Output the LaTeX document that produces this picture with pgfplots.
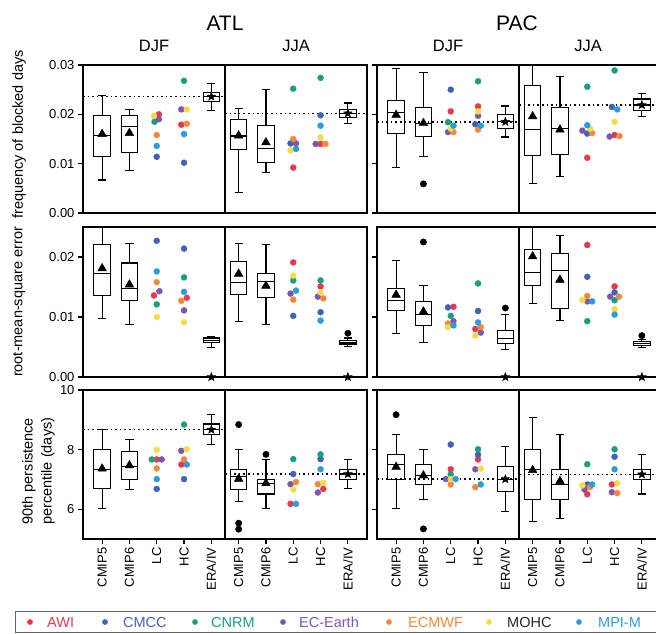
\documentclass[border=0pt]{standalone}
\usepackage{fontspec}
\setmainfont{Liberation Sans}
\usepackage{pgfplots}
\pgfplotsset{compat=1.18}

\definecolor{awi}{RGB}{230,57,80}
\definecolor{cmcc}{RGB}{64,98,184}
\definecolor{cnrm}{RGB}{24,158,128}
\definecolor{ecearth}{RGB}{126,86,174}
\definecolor{ecmwf}{RGB}{245,137,58}
\definecolor{mohc}{RGB}{244,220,72}
\definecolor{mpim}{RGB}{44,156,220}

% filled five-pointed star
\pgfdeclareplotmark{fstar}{%
  \pgfpathmoveto{\pgfpointpolar{90}{\pgfplotmarksize}}%
  \pgfpathlineto{\pgfpointpolar{126}{0.42\pgfplotmarksize}}%
  \pgfpathlineto{\pgfpointpolar{162}{\pgfplotmarksize}}%
  \pgfpathlineto{\pgfpointpolar{198}{0.42\pgfplotmarksize}}%
  \pgfpathlineto{\pgfpointpolar{234}{\pgfplotmarksize}}%
  \pgfpathlineto{\pgfpointpolar{270}{0.42\pgfplotmarksize}}%
  \pgfpathlineto{\pgfpointpolar{306}{\pgfplotmarksize}}%
  \pgfpathlineto{\pgfpointpolar{342}{0.42\pgfplotmarksize}}%
  \pgfpathlineto{\pgfpointpolar{18}{\pgfplotmarksize}}%
  \pgfpathlineto{\pgfpointpolar{54}{0.42\pgfplotmarksize}}%
  \pgfpathclose
  \pgfusepathqfillstroke}

\pgfplotsset{
  panel/.style={
    scale only axis, width=284pt,
    xmin=0.3, xmax=10.7, clip=false,
    axis line style={line width=1.1pt},
    tick style={black, line width=1.1pt},
    tick align=outside, major tick length=5pt,
    xtick pos=left, ytick pos=left,
    xtick=\empty,
    tick label style={font=\fontsize{13}{13}\selectfont},
    label style={font=\fontsize{14.5}{19}\selectfont},
    /pgf/number format/assume math mode=true,
  },
  frac/.style={scaled y ticks=false,
    yticklabel style={/pgf/number format/fixed,
      /pgf/number format/fixed zerofill, /pgf/number format/precision=2}},
  rowA/.style={frac, height=148pt, ymin=0, ymax=0.03, ytick={0,0.01,0.02,0.03}},
  rowB/.style={frac, height=150pt, ymin=0, ymax=0.025, ytick={0,0.01,0.02}},
  rowC/.style={height=149pt, ymin=5, ymax=10, ytick={6,8,10},
    xtick={1,...,10},
    xticklabels={CMIP5,CMIP6,LC,HC,ERA/IV,CMIP5,CMIP6,LC,HC,ERA/IV},
    xticklabel style={rotate=90, anchor=east}},
  pac/.style={yticklabels={}},
  bxl/.style={black, line width=1.1pt, mark=none},
}

% box: position, lower whisker, lower quartile, median, upper quartile, upper whisker
\newcommand{\bx}[6]{%
  \pgfmathsetmacro\boxl{#1-0.3}\pgfmathsetmacro\boxr{#1+0.3}%
  \pgfmathsetmacro\capl{#1-0.15}\pgfmathsetmacro\capr{#1+0.15}%
  \addplot[bxl] coordinates {(\boxl,#3) (\boxr,#3) (\boxr,#5) (\boxl,#5)} -- cycle;
  \addplot[bxl] coordinates {(\boxl,#4) (\boxr,#4)};
  \addplot[bxl] coordinates {(#1,#5) (#1,#6)};
  \addplot[bxl] coordinates {(#1,#2) (#1,#3)};
  \addplot[bxl] coordinates {(\capl,#6) (\capr,#6)};
  \addplot[bxl] coordinates {(\capl,#2) (\capr,#2)};
}
\newcommand{\means}[1]{\addplot[only marks, mark=triangle*, mark size=5pt, black] coordinates {#1};}
\newcommand{\refs}[1]{\addplot[only marks, mark=fstar, mark size=4.5pt, black] coordinates {#1};}
\newcommand{\outl}[1]{\addplot[only marks, mark=*, mark size=3.2pt, black] coordinates {#1};}
\newcommand{\mdl}[2]{\addplot[only marks, mark=*, mark size=3pt, color=#1] coordinates {#2};}
\newcommand{\divider}[2]{\addplot[black, line width=1.5pt] coordinates {(5.5,#1) (5.5,#2)};}
\newcommand{\refline}[3]{\addplot[black, line width=1.6pt, dash pattern=on 1.6pt off 3pt] coordinates {(#1,#3) (#2,#3)};}
% legend entry: dot position, text position, colour, text colour, name
\newcommand{\lgd}[5]{%
  \addplot[only marks, mark=*, mark size=2.6pt, color=#3] coordinates {(#1,11)};
  \node[anchor=west, inner sep=0pt, text=#4, font=\fontsize{14.5}{16}\selectfont] at (axis cs:#2,11) {#5};}

\begin{document}
\begin{tikzpicture}

\node[font=\fontsize{21}{21}\selectfont] at (225pt,-23pt) {ATL};
\node[font=\fontsize{16.5}{16.5}\selectfont] at (154pt,-46pt) {DJF};
\node[font=\fontsize{16.5}{16.5}\selectfont] at (296pt,-46pt) {JJA};
\node[font=\fontsize{21}{21}\selectfont] at (517pt,-23pt) {PAC};
\node[font=\fontsize{16.5}{16.5}\selectfont] at (448pt,-46pt) {DJF};
\node[font=\fontsize{16.5}{16.5}\selectfont] at (588pt,-46pt) {JJA};

% ---------- row 1: frequency of blocked days ----------
\begin{axis}[panel, rowA, at={(83pt,-65pt)}, anchor=north west,
  ylabel={frequency of blocked days},
  ylabel style={at={(axis description cs:-0.225,0.53)}, anchor=center}]
\divider{0}{0.03}
\refline{0.3}{5.5}{0.0236}
\refline{5.5}{10.7}{0.0202}
\bx{1}{0.0067}{0.0115}{0.0158}{0.0197}{0.0239}
\bx{2}{0.0086}{0.0123}{0.0175}{0.0198}{0.0210}
\bx{5}{0.0208}{0.0226}{0.0236}{0.0244}{0.0262}
\bx{6}{0.0042}{0.0129}{0.0156}{0.0189}{0.0212}
\bx{7}{0.0083}{0.0102}{0.0131}{0.0177}{0.0251}
\bx{10}{0.0181}{0.0194}{0.0202}{0.0210}{0.0223}
\means{(1,0.0160) (2,0.0162) (6,0.0157) (7,0.0143)}
\refs{(5,0.0236) (10,0.0202)}
\mdl{awi}{(3.08,0.0200) (3.9,0.0179) (8,0.0092) (9,0.0140)}
\mdl{cmcc}{(3,0.0114) (4,0.0102) (7.9,0.0141) (9,0.0198)}
\mdl{cnrm}{(2.92,0.0185) (4,0.0268) (8,0.0252) (9,0.0274)}
\mdl{ecearth}{(3.08,0.0190) (3.9,0.0210) (8.1,0.0141) (8.82,0.0140)}
\mdl{ecmwf}{(3,0.0158) (4.1,0.0181) (8,0.0150) (9.18,0.0140)}
\mdl{mohc}{(2.9,0.0197) (4.1,0.0210) (7.9,0.0127) (9,0.0153)}
\mdl{mpim}{(3,0.0136) (4,0.0160) (8.1,0.0130) (9,0.0177)}
\end{axis}

\begin{axis}[panel, rowA, pac, at={(377pt,-65pt)}, anchor=north west]
\divider{0}{0.03}
\refline{0.3}{5.5}{0.0185}
\refline{5.5}{10.7}{0.0219}
\bx{1}{0.0093}{0.0162}{0.0204}{0.0228}{0.0293}
\bx{2}{0.0115}{0.0155}{0.0182}{0.0214}{0.0285}
\bx{5}{0.0154}{0.0171}{0.0185}{0.0199}{0.0217}
\bx{6}{0.0059}{0.0116}{0.0169}{0.0259}{0.0300}
\bx{7}{0.0074}{0.0119}{0.0171}{0.0213}{0.0276}
\bx{10}{0.0196}{0.0207}{0.0219}{0.0231}{0.0243}
\outl{(2,0.0059)}
\means{(1,0.0199) (2,0.0182) (6,0.0196) (7,0.0169)}
\refs{(5,0.0185) (10,0.0219)}
\mdl{awi}{(3,0.0206) (4,0.0216) (8,0.0112) (9,0.0158)}
\mdl{cmcc}{(3,0.0250) (3.9,0.0180) (8,0.0161) (8.9,0.0215)}
\mdl{cnrm}{(2.9,0.0184) (4,0.0267) (8,0.0256) (9,0.0289)}
\mdl{ecearth}{(2.9,0.0164) (4,0.0197) (7.82,0.0167) (8.82,0.0155)}
\mdl{ecmwf}{(3.1,0.0164) (4,0.0169) (8.18,0.0162) (9.18,0.0156)}
\mdl{mohc}{(3,0.0171) (4,0.0206) (8.1,0.0171) (9,0.0185)}
\mdl{mpim}{(3.1,0.0177) (4.1,0.0177) (8,0.0178) (9.1,0.0210)}
\end{axis}

% ---------- row 2: root-mean-square error ----------
\begin{axis}[panel, rowB, at={(83pt,-227pt)}, anchor=north west,
  ylabel={root-mean-square error},
  ylabel style={at={(axis description cs:-0.225,0.5)}, anchor=center}]
\divider{0}{0.025}
\bx{1}{0.0097}{0.0136}{0.0172}{0.0221}{0.0250}
\bx{2}{0.0087}{0.0127}{0.0148}{0.0190}{0.0222}
\bx{5}{0.0049}{0.0057}{0.0061}{0.0065}{0.0068}
\bx{6}{0.0093}{0.0138}{0.0157}{0.0192}{0.0223}
\bx{7}{0.0088}{0.0133}{0.0159}{0.0173}{0.0221}
\bx{10}{0.0051}{0.0055}{0.0058}{0.0061}{0.0065}
\outl{(10,0.0073)}
\means{(1,0.0181) (2,0.0154) (6,0.0172) (7,0.0152)}
\refs{(5,0) (10,0)}
\mdl{awi}{(2.9,0.0136) (4.1,0.0132) (8,0.0191) (9,0.0151)}
\mdl{cmcc}{(3,0.0227) (4,0.0214) (8,0.0102) (9,0.0108)}
\mdl{cnrm}{(3,0.0121) (4,0.0166) (8,0.0161) (9,0.0161)}
\mdl{ecearth}{(3.1,0.0143) (4,0.0111) (7.9,0.0139) (8.9,0.0134)}
\mdl{ecmwf}{(3,0.0158) (3.9,0.0127) (8,0.0129) (9.1,0.0131)}
\mdl{mohc}{(3,0.0100) (4,0.0091) (8,0.0169) (9,0.0141)}
\mdl{mpim}{(3,0.0176) (4,0.0142) (8.1,0.0144) (9,0.0094)}
\end{axis}

\begin{axis}[panel, rowB, pac, at={(377pt,-227pt)}, anchor=north west]
\divider{0}{0.025}
\bx{1}{0.0073}{0.0111}{0.0127}{0.0147}{0.0194}
\bx{2}{0.0058}{0.0086}{0.0104}{0.0126}{0.0153}
\bx{5}{0.0046}{0.0056}{0.0064}{0.0078}{0.0104}
\bx{6}{0.0123}{0.0152}{0.0174}{0.0212}{0.0250}
\bx{7}{0.0094}{0.0114}{0.0177}{0.0206}{0.0236}
\bx{10}{0.0049}{0.0053}{0.0056}{0.0059}{0.0062}
\outl{(2,0.0225) (5,0.0115) (10,0.0069)}
\means{(1,0.0137) (2,0.0109) (6,0.0201) (7,0.0162)}
\refs{(5,0) (10,0)}
\mdl{awi}{(3.1,0.0117) (3.9,0.0080) (8,0.0220) (9,0.0151)}
\mdl{cmcc}{(2.9,0.0116) (4,0.0110) (8,0.0167) (9,0.0141)}
\mdl{cnrm}{(3,0.0102) (4,0.0156) (8,0.0093) (9,0.0128)}
\mdl{ecearth}{(3.1,0.0093) (4.1,0.0074) (8,0.0126) (8.84,0.0134)}
\mdl{ecmwf}{(2.9,0.0089) (4.1,0.0083) (8,0.0135) (9.16,0.0134)}
\mdl{mohc}{(2.9,0.0083) (3.9,0.0069) (7.82,0.0128) (9,0.0113)}
\mdl{mpim}{(3.1,0.0086) (4,0.0091) (8.18,0.0126) (9,0.0104)}
\end{axis}

% ---------- row 3: 90th persistence percentile ----------
\begin{axis}[panel, rowC, at={(83pt,-390pt)}, anchor=north west,
  ylabel={90th persistence\\percentile (days)},
  ylabel style={align=center, at={(axis description cs:-0.157,0.455)}, anchor=center}]
\divider{5}{10}
\refline{0.3}{5.5}{8.67}
\refline{5.5}{10.7}{7.18}
\bx{1}{6.01}{6.69}{7.33}{8.00}{8.67}
\bx{2}{6.67}{7.00}{7.42}{7.93}{8.33}
\bx{5}{8.17}{8.50}{8.67}{8.86}{9.18}
\bx{6}{6.26}{6.67}{7.11}{7.33}{8.00}
\bx{7}{6.01}{6.51}{6.86}{7.01}{7.68}
\bx{10}{6.68}{7.01}{7.18}{7.34}{7.67}
\outl{(6,8.84) (6,5.53) (6,5.33) (7,7.84)}
\means{(1,7.36) (2,7.47) (6,7.02) (7,6.87)}
\refs{(5,8.67) (10,7.18)}
\mdl{awi}{(3,7.67) (3.9,7.50) (7.9,6.18) (9.1,6.68)}
\mdl{cmcc}{(3,6.68) (4,7.01) (8,7.18) (9,7.68)}
\mdl{cnrm}{(2.82,7.67) (4,8.84) (8,7.68) (9,7.84)}
\mdl{ecearth}{(3.18,7.67) (3.9,7.96) (7.9,6.84) (8.9,6.56)}
\mdl{ecmwf}{(3,7.37) (4,7.67) (8.1,6.91) (8.9,6.84)}
\mdl{mohc}{(3,7.99) (4.1,8.01) (8,6.66) (9.1,6.88)}
\mdl{mpim}{(3,7.01) (4.1,7.50) (8.1,6.18) (9,7.34)}
\end{axis}

\begin{axis}[panel, rowC, pac, at={(377pt,-390pt)}, anchor=north west]
\divider{5}{10}
\refline{0.3}{5.5}{7.01}
\refline{5.5}{10.7}{7.17}
\bx{1}{6.01}{7.01}{7.49}{7.83}{8.50}
\bx{2}{6.34}{6.83}{7.13}{7.50}{8.00}
\bx{5}{5.92}{6.58}{7.01}{7.42}{8.09}
\bx{6}{5.59}{6.34}{7.33}{8.01}{9.09}
\bx{7}{5.68}{6.34}{6.83}{7.34}{8.51}
\bx{10}{6.51}{7.00}{7.17}{7.33}{7.83}
\outl{(1,9.17) (2,5.34)}
\means{(1,7.42) (2,7.13) (6,7.31) (7,6.94)}
\refs{(5,7.01) (10,7.17)}
\mdl{awi}{(3,7.34) (4,7.67) (8,6.50) (8.9,6.83)}
\mdl{cmcc}{(3,8.17) (4,7.83) (8,6.83) (9,7.76)}
\mdl{cnrm}{(3,7.17) (4,8.01) (8,7.51) (9,8.01)}
\mdl{ecearth}{(2.82,7.01) (3.9,7.34) (7.9,6.66) (8.9,6.57)}
\mdl{ecmwf}{(3,6.83) (3.9,6.74) (8.1,6.74) (9.1,6.54)}
\mdl{mohc}{(3,7.01) (4.1,7.36) (7.82,6.80) (9.1,6.87)}
\mdl{mpim}{(3.18,7.01) (4.1,6.83) (8.18,6.83) (9,7.34)}
\end{axis}

% ---------- legend (one hidden axis in pixel units) ----------
\begin{axis}[hide axis, scale only axis, width=656pt, height=22pt,
  xmin=0, xmax=656, ymin=0, ymax=22, clip=false,
  at={(0pt,-633pt)}, anchor=south west]
\draw[black!60, line width=1pt] (axis cs:15,0.6) rectangle (axis cs:700,21.5);
\lgd{30}{47}{awi}{awi}{AWI}
\lgd{105}{123}{cmcc}{cmcc}{CMCC}
\lgd{195}{211}{cnrm}{cnrm}{CNRM}
\lgd{283}{299}{ecearth}{ecearth}{EC-Earth}
\lgd{389}{408}{ecmwf}{ecmwf}{ECMWF}
\lgd{489}{507}{mohc}{black!85}{MOHC}
\lgd{579}{598}{mpim}{mpim}{MPI-M}
\end{axis}

\pgfresetboundingbox
\path[use as bounding box] (0pt,0pt) rectangle (656pt,-633pt);
\end{tikzpicture}
\end{document}
